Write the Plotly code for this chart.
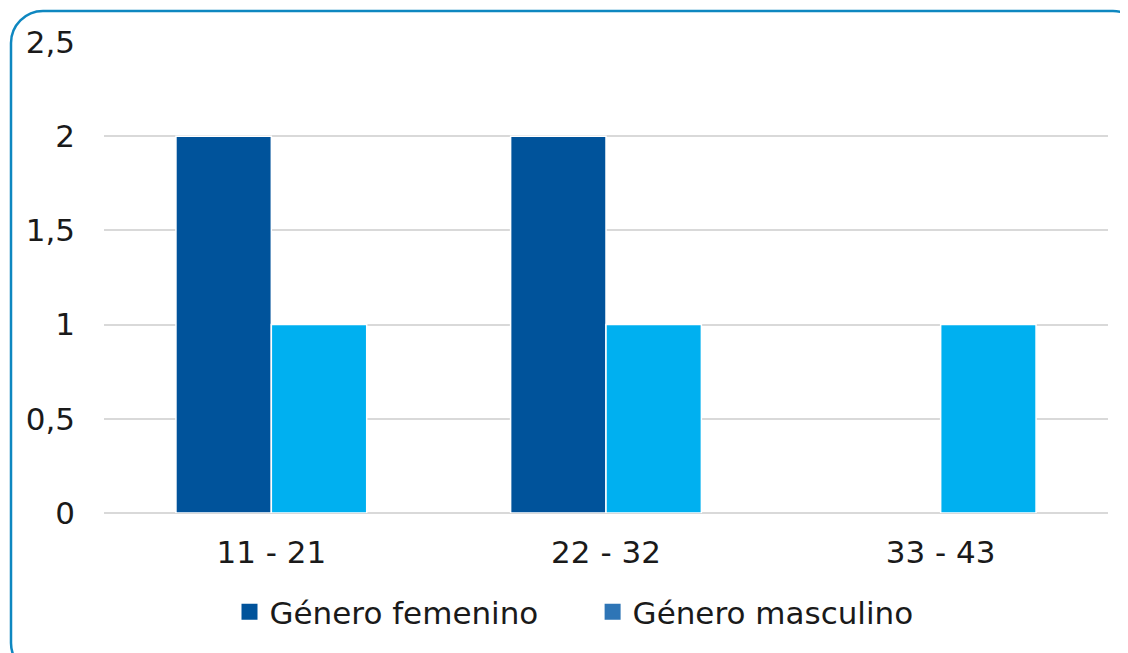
import plotly.graph_objects as go

categories = ["11 - 21", "22 - 32", "33 - 43"]
femenino = [2, 2, None]
masculino = [1, 1, 1]
series_names = ["Género femenino", "Género masculino"]
tick_vals = [0, 0.5, 1, 1.5, 2, 2.5]
tick_text = ["0", "0,5", "1", "1,5", "2", "2,5"]

FONT = "DejaVu Sans"
OFF = 8  # page body margin
W, H = 1128 - OFF, 653 - OFF
L, R, T = 104 - OFF, 20, 42 - OFF
pw, ph = 1004, 471
B = H - T - ph

fig = go.Figure()
fig.add_trace(go.Bar(x=categories, y=femenino, marker=dict(color="#00539B", line=dict(color="white", width=1.5)),
                     showlegend=False, name=series_names[0]))
fig.add_trace(go.Bar(x=categories, y=masculino, marker=dict(color="#00B0F0", line=dict(color="white", width=1.5)),
                     showlegend=False, name=series_names[1]))
pad = ["\u00a0" * 5, ""]
for nm, col, p in zip(series_names, ["#00539B", "#2E75B6"], pad):
    fig.add_trace(go.Scatter(x=[None], y=[None], mode="markers", name=nm + p,
                             marker=dict(symbol="square", size=21, color=col)))

def px2paper(x, y):
    # x, y in page pixels
    return (x - OFF - L) / pw, (T + ph - (y - OFF)) / ph

x0, y0, x1, y1, r = 11, 11, 1145, 675, 32
k = 0.55 * r
def P(x, y):
    a, b = px2paper(x, y)
    return f"{a:.5f},{b:.5f}"
path = (f"M {P(x0, y0 + r)} C {P(x0, y0 + r - k)} {P(x0 + r - k, y0)} {P(x0 + r, y0)} "
        f"L {P(x1 - r, y0)} C {P(x1 - r + k, y0)} {P(x1, y0 + r - k)} {P(x1, y0 + r)} "
        f"L {P(x1, y1 - r)} C {P(x1, y1 - r + k)} {P(x1 - r + k, y1)} {P(x1 - r, y1)} "
        f"L {P(x0 + r, y1)} C {P(x0 + r - k, y1)} {P(x0, y1 - r + k)} {P(x0, y1 - r)} Z")
fig.add_shape(type="path", path=path, xref="paper", yref="paper",
              line=dict(color="#0E87C0", width=2.5), fillcolor="rgba(0,0,0,0)")

fig.update_layout(
    width=W, height=H,
    margin=dict(l=L, r=R, t=T, b=B),
    paper_bgcolor="white", plot_bgcolor="white",
    barmode="group", bargap=0.43, bargroupgap=0.0,
    font=dict(family=FONT, size=31, color="#1a1a1a"),
    legend=dict(orientation="h", x=px2paper(574, 0)[0], xanchor="center", y=px2paper(0, 612)[1], yanchor="middle",
                font=dict(size=31), itemwidth=30, tracegroupgap=0),
    xaxis=dict(showgrid=False, showline=False, ticks="", ticklabelstandoff=18),
    yaxis=dict(range=[0, 2.5], tickvals=tick_vals, ticktext=tick_text, showgrid=True,
               gridcolor="#D9D9D9", gridwidth=2, zeroline=True, zerolinecolor="#D9D9D9",
               zerolinewidth=2, showline=False, ticks="", ticklabelstandoff=28),
)
fig.write_html("out.html")
